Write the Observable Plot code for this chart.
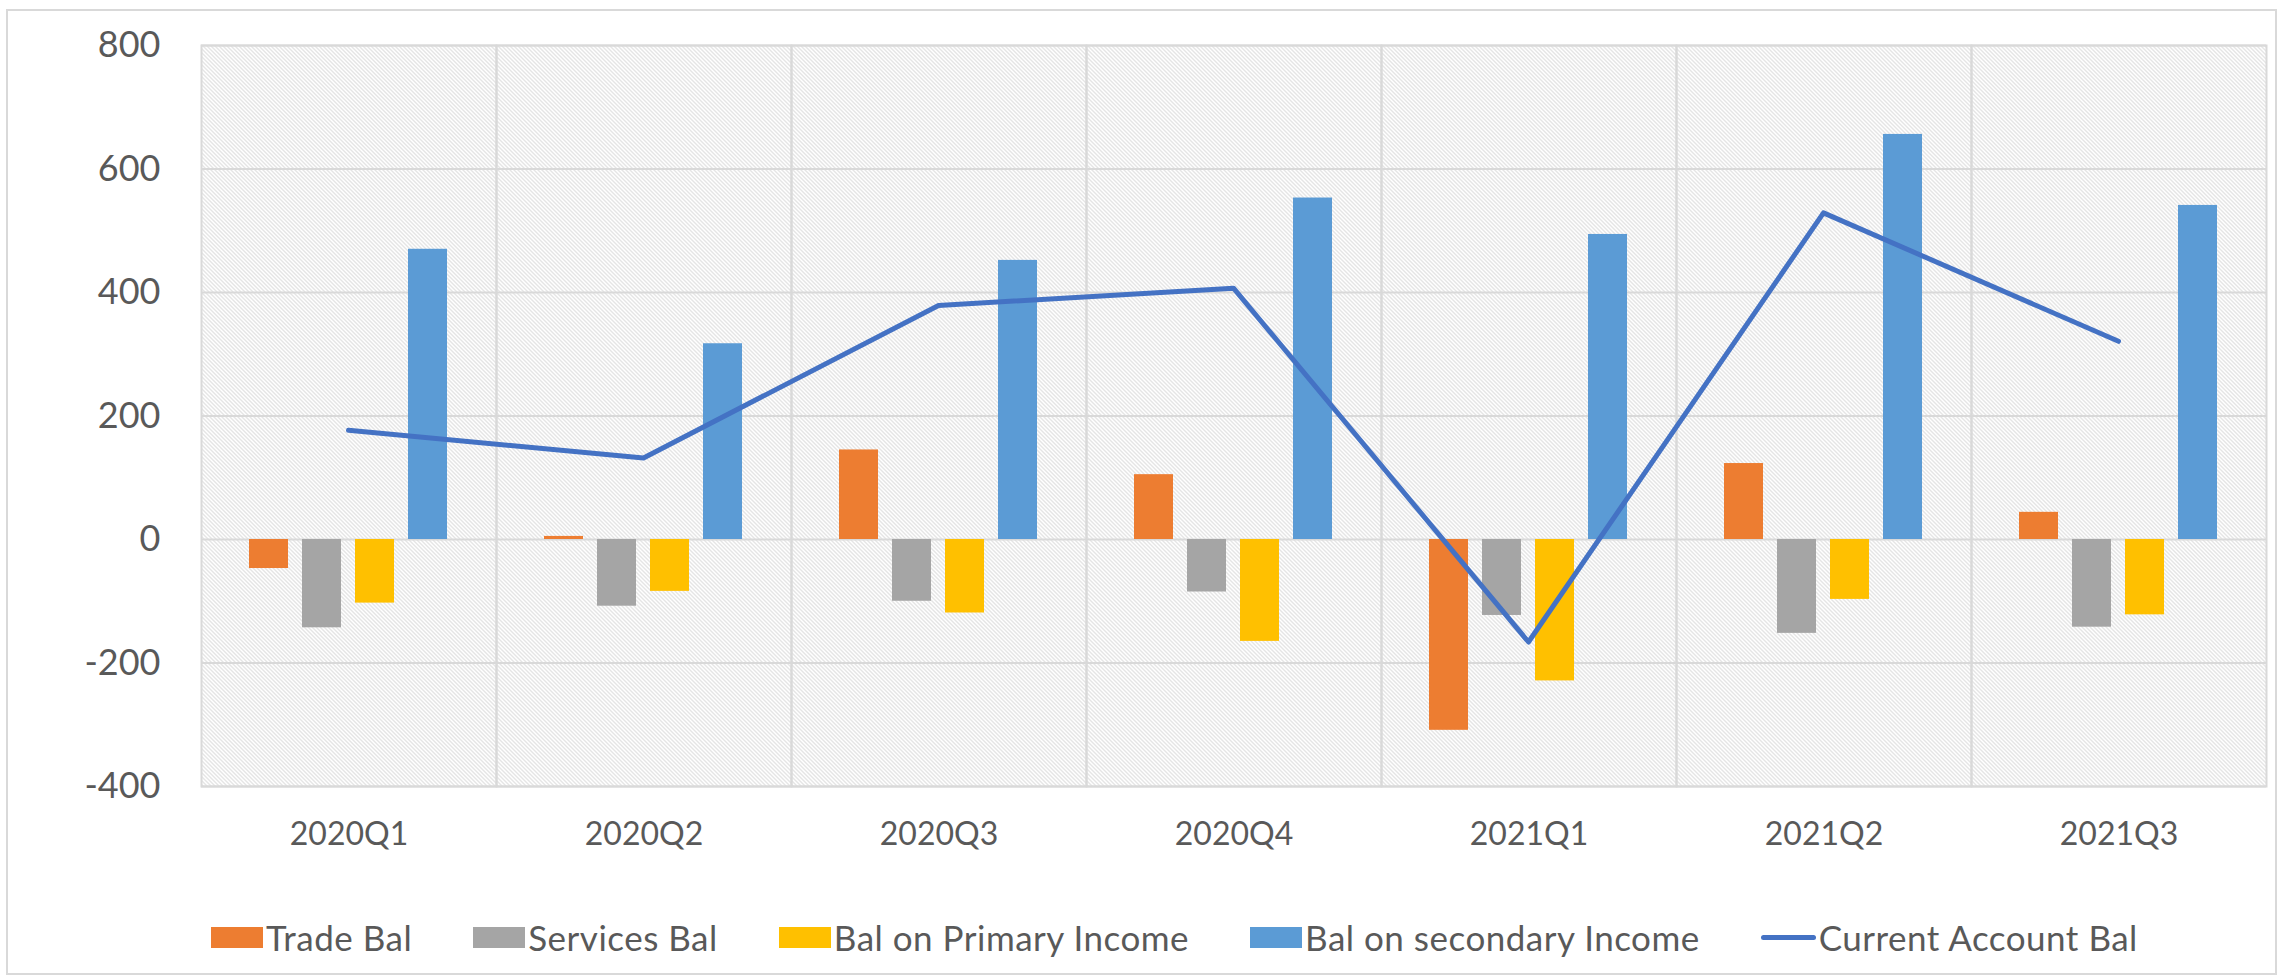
<!DOCTYPE html>
<html><head><meta charset="utf-8">
<script src="https://cdn.jsdelivr.net/npm/d3@7"></script>
<script src="https://cdn.jsdelivr.net/npm/@observablehq/plot@0.6"></script>
<style>
html,body{margin:0;padding:0;background:#fff;}
body{width:2280px;height:977px;position:relative;overflow:hidden;font-family:Lato,"Noto Sans",sans-serif;color:#595959;}
#border{position:absolute;left:6px;top:9px;width:2271px;height:966px;border:2px solid #d9d9d9;box-sizing:border-box;}
#bars,#line{position:absolute;left:0;top:0;}
#legend{position:absolute;left:211px;top:918px;display:flex;align-items:center;gap:61px;font-size:35px;letter-spacing:0.5px;line-height:38px;white-space:nowrap;}
.item{display:flex;align-items:center;gap:3px;}
.sw{width:52px;height:21px;}
.ln{width:55px;height:5px;border-radius:3px;}
</style></head><body>
<div id="border"></div>
<div id="bars"></div><div id="line"></div>
<div id="legend"></div>
<script>
const categories = ["2020Q1","2020Q2","2020Q3","2020Q4","2021Q1","2021Q2","2021Q3"];
const tradeBal     = [-47, 5, 145, 105, -309, 123, 44];
const servicesBal  = [-143, -108, -100, -85, -123, -152, -142];
const primaryBal   = [-103, -84, -119, -165, -229, -97, -122];
const secondaryBal = [470, 317, 452, 553, 494, 656, 541];
const currentBal   = [177, 132, 379, 407, -166, 529, 321];
const seriesNames  = ["Trade Bal","Services Bal","Bal on Primary Income","Bal on secondary Income"];
const lineName     = "Current Account Bal";
const seriesColors = ["#ED7D31","#A5A5A5","#FFC000","#5B9BD5"];
const lineColor    = "#4472C4";
const yTicks       = [-400,-200,0,200,400,600,800];

const W = 2280, H = 880, mL = 200, mR = 14, mT = 45, mB = 94;
const seriesArrays = [tradeBal, servicesBal, primaryBal, secondaryBal];
const rows = [];
categories.forEach((c, i) => seriesArrays.forEach((arr, j) => rows.push({period: c, series: seriesNames[j], value: arr[i]})));
const lineRows = categories.map((c, i) => ({period: c, value: currentBal[i]}));

const barsPlot = Plot.plot({
  width: W, height: H, marginLeft: mL, marginRight: mR, marginTop: mT, marginBottom: mB,
  style: {fontFamily: "Lato, sans-serif", color: "#595959", background: "transparent", overflow: "visible"},
  fx: {domain: categories, padding: 0, label: null},
  x: {domain: seriesNames, paddingInner: 0.26, paddingOuter: 0.91, axis: null},
  y: {domain: [-400, 800], label: null},
  color: {domain: seriesNames, range: seriesColors},
  marks: [
    Plot.frame({fill: "url(#hatch)", stroke: "none"}),
    Plot.gridY(yTicks, {stroke: "#d9d9d9", strokeOpacity: 1, strokeWidth: 2}),
    Plot.frame({stroke: "#d9d9d9", strokeWidth: 2}),
    Plot.barY(rows, {fx: "period", x: "series", y: "value", fill: "series"}),
    Plot.axisY(yTicks, {tickSize: 0, tickPadding: 41, fontSize: 36, tickFormat: d => String(d), label: null, fill: "#595959"}),
    Plot.axisFx({anchor: "bottom", tickSize: 0, tickPadding: 36, fontSize: 32, label: null, fill: "#595959"})
  ]
});
const svgB = barsPlot.tagName.toLowerCase() === "svg" ? barsPlot : barsPlot.querySelector("svg");
const pat = d3.select(svgB).insert("defs", ":first-child").append("pattern")
  .attr("id", "hatch").attr("patternUnits", "userSpaceOnUse").attr("width", 4).attr("height", 4);
pat.append("rect").attr("width", 4).attr("height", 4).attr("fill", "#ffffff");
pat.append("path").attr("d", "M-1,-1L5,5M3,-1L5,1M-1,3L1,5").attr("stroke", "#cbcbcb").attr("stroke-width", 1);
document.getElementById("bars").appendChild(barsPlot);

const linePlot = Plot.plot({
  width: W, height: H, marginLeft: mL, marginRight: mR, marginTop: mT, marginBottom: mB,
  style: {background: "transparent", overflow: "visible"},
  x: {type: "point", domain: categories, padding: 0.5, axis: null},
  y: {domain: [-400, 800], axis: null},
  marks: [
    Plot.line(lineRows, {x: "period", y: "value", stroke: lineColor, strokeWidth: 5, strokeLinejoin: "round", strokeLinecap: "round"})
  ]
});
document.getElementById("line").appendChild(linePlot);

const legend = d3.select("#legend");
seriesNames.forEach((name, j) => {
  const it = legend.append("div").attr("class", "item");
  it.append("div").attr("class", "sw").style("background", seriesColors[j]);
  it.append("span").text(name);
});
const li = legend.append("div").attr("class", "item");
li.append("div").attr("class", "ln").style("background", lineColor);
li.append("span").text(lineName);
</script>
</body></html>
